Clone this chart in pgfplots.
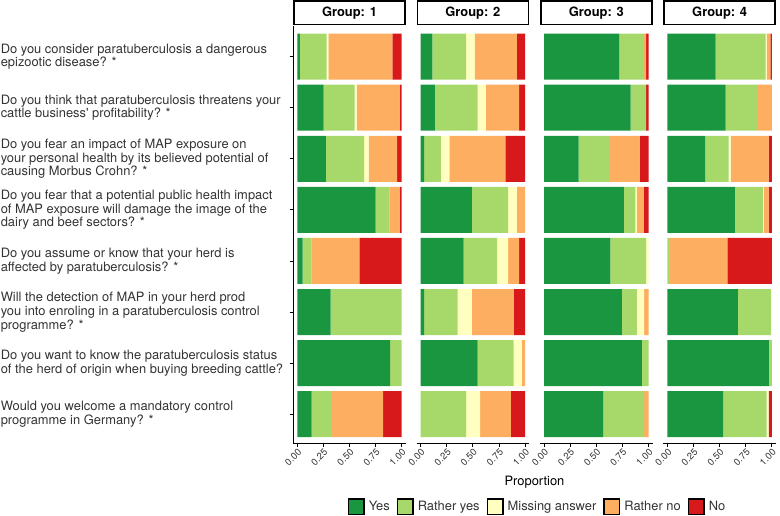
\documentclass[border=0pt]{standalone}
\usepackage{pgfplots}
\pgfplotsset{compat=1.18}
\usepackage{pgfplotstable}
\usepackage{fontspec}
\setmainfont{TeX Gyre Heros}
\newfontfamily\plainfont{TeX Gyre Heros}
\definecolor{cYes}{HTML}{1A9641}
\definecolor{cRY}{HTML}{A6D96A}
\definecolor{cM}{HTML}{FFFFBF}
\definecolor{cRN}{HTML}{FDAE61}
\definecolor{cNo}{HTML}{D7191C}
\definecolor{txt}{HTML}{333333}

\pgfplotstableread{
q Yes RY M RN No
1 0.026 0.255 0.016 0.613 0.090
2 0.252 0.298 0.019 0.412 0.019
3 0.275 0.364 0.045 0.271 0.045
4 0.751 0.134 0.000 0.096 0.019
5 0.051 0.086 0.000 0.457 0.406
6 0.320 0.680 0.000 0.000 0.000
7 0.888 0.112 0.000 0.000 0.000
8 0.137 0.186 0.000 0.498 0.179
}\gOne
\pgfplotstableread{
q Yes RY M RN No
1 0.111 0.325 0.080 0.404 0.080
2 0.137 0.408 0.079 0.319 0.057
3 0.032 0.162 0.080 0.538 0.188
4 0.490 0.348 0.082 0.080 0.000
5 0.411 0.321 0.106 0.105 0.057
6 0.032 0.322 0.136 0.402 0.108
7 0.545 0.344 0.079 0.032 0.000
8 0.000 0.436 0.134 0.293 0.137
}\gTwo
\pgfplotstableread{
q Yes RY M RN No
1 0.720 0.239 0.000 0.019 0.022
2 0.828 0.150 0.000 0.000 0.022
3 0.331 0.300 0.000 0.283 0.086
4 0.764 0.109 0.016 0.066 0.045
5 0.634 0.344 0.022 0.000 0.000
6 0.745 0.144 0.070 0.041 0.000
7 0.936 0.064 0.000 0.000 0.000
8 0.567 0.392 0.000 0.041 0.000
}\gThree
\pgfplotstableread{
q Yes RY M RN No
1 0.462 0.477 0.010 0.035 0.016
2 0.557 0.300 0.000 0.143 0.000
3 0.360 0.226 0.019 0.363 0.032
4 0.646 0.268 0.006 0.048 0.032
5 0.000 0.022 0.000 0.551 0.427
6 0.675 0.315 0.010 0.000 0.000
7 0.971 0.029 0.000 0.000 0.000
8 0.532 0.417 0.019 0.000 0.032
}\gFour

\pgfplotsset{
  panel/.style={
    scale only axis, width=112.8pt, height=417.3pt,
    xbar stacked, bar width=0.9,
    xmin=-0.04, xmax=1.04, ymin=0.4, ymax=8.57, y dir=reverse,
    axis x line*=bottom,
    axis line style={-, line width=1.1pt, black},
    xtick={0,0.25,0.5,0.75,1},
    xticklabels={0.00,0.25,0.50,0.75,1.00},
    xticklabel style={rotate=45, anchor=north east, font=\fontsize{9.5}{10}\selectfont, text=txt, inner sep=1pt},
    tick align=outside, major tick length=3.5pt,
    tick style={black, line width=0.9pt},
    every axis title/.style={at={(0.5,1)}, anchor=south, yshift=1.5pt, draw=black, line width=1.6pt, fill=white, minimum width=111.1pt, minimum height=23.7pt, inner sep=0pt, outer sep=0pt, font=\bfseries\fontsize{12.9}{14}\selectfont},
    clip=false,
  },
  seg/.style={fill=#1, draw=none,
    legend image code/.code={\draw[##1, draw=black, line width=1.4pt] (0pt,-7.8pt) rectangle (15.6pt,7.8pt);}},
}

\begin{document}
\begin{tikzpicture}
\useasboundingbox (0,0) rectangle (780pt,516pt);
\begin{axis}[panel, at={(293.1pt,72.7pt)}, anchor=south west, title={Group: 1},
  axis y line*=left, ytick={1,...,8},
  yticklabels={
    {Do you consider paratuberculosis a dangerous\\epizootic disease? *},
    {Do you think that paratuberculosis threatens your\\cattle business{\plainfont'} profitability? *},
    {Do you fear an impact of MAP exposure on\\your personal health by its believed potential of\\causing Morbus Crohn? *},
    {Do you fear that a potential public health impact\\of MAP exposure will damage the image of the\\dairy and beef sectors? *},
    {Do you assume or know that your herd is\\affected by paratuberculosis? *},
    {Will the detection of MAP in your herd prod\\you into enroling in a paratuberculosis control\\programme? *},
    {Do you want to know the paratuberculosis status\\of the herd of origin when buying breeding cattle?},
    {Would you welcome a mandatory control\\programme in Germany? *}},
  yticklabel style={anchor=west, xshift=-289pt, align=left, inner sep=0pt, text=txt, font=\fontsize{12.9}{13.7}\selectfont},
  xlabel={Proportion},
  every axis x label/.style={at={(2.140,-0.0935)}, anchor=center, font=\fontsize{12.9}{14}\selectfont},
  legend columns=5,
  legend style={at={(2.167,-0.152)}, anchor=center, draw=none, fill=none, font=\fontsize{12.9}{14}\selectfont, text=txt,
    /tikz/every odd column/.append style={column sep=2pt},
    /tikz/every even column/.append style={column sep=5pt}},
]
\addplot[seg=cYes] table[x=Yes,y=q] {\gOne};
\addplot[seg=cRY] table[x=RY,y=q] {\gOne};
\addplot[seg=cM] table[x=M,y=q] {\gOne};
\addplot[seg=cRN] table[x=RN,y=q] {\gOne};
\addplot[seg=cNo] table[x=No,y=q] {\gOne};
\legend{Yes, Rather yes, Missing answer, Rather no, No}
\end{axis}
\begin{axis}[panel, at={(416.5pt,72.7pt)}, anchor=south west, title={Group: 2}, axis y line=none, ytick=\empty]
\addplot[seg=cYes] table[x=Yes,y=q] {\gTwo};
\addplot[seg=cRY] table[x=RY,y=q] {\gTwo};
\addplot[seg=cM] table[x=M,y=q] {\gTwo};
\addplot[seg=cRN] table[x=RN,y=q] {\gTwo};
\addplot[seg=cNo] table[x=No,y=q] {\gTwo};
\end{axis}
\begin{axis}[panel, at={(539.9pt,72.7pt)}, anchor=south west, title={Group: 3}, axis y line=none, ytick=\empty]
\addplot[seg=cYes] table[x=Yes,y=q] {\gThree};
\addplot[seg=cRY] table[x=RY,y=q] {\gThree};
\addplot[seg=cM] table[x=M,y=q] {\gThree};
\addplot[seg=cRN] table[x=RN,y=q] {\gThree};
\addplot[seg=cNo] table[x=No,y=q] {\gThree};
\end{axis}
\begin{axis}[panel, at={(663.3pt,72.7pt)}, anchor=south west, title={Group: 4}, axis y line=none, ytick=\empty]
\addplot[seg=cYes] table[x=Yes,y=q] {\gFour};
\addplot[seg=cRY] table[x=RY,y=q] {\gFour};
\addplot[seg=cM] table[x=M,y=q] {\gFour};
\addplot[seg=cRN] table[x=RN,y=q] {\gFour};
\addplot[seg=cNo] table[x=No,y=q] {\gFour};
\end{axis}
\end{tikzpicture}
\end{document}
